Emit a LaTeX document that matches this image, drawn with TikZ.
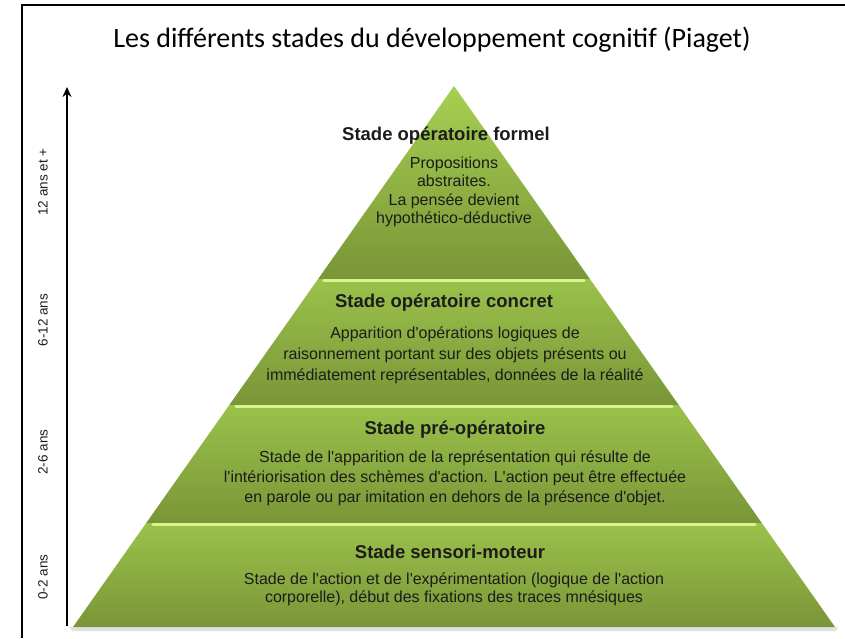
\documentclass[tikz,border=0pt]{standalone}
\usepackage{fontspec}
\setmainfont{Liberation Sans}[Ligatures=TeXOff]
\newfontfamily\titlefont{Carlito}
\usetikzlibrary{arrows.meta}
\definecolor{gtop}{HTML}{9AC24B}
\definecolor{gbot}{HTML}{7A9537}
\definecolor{apex}{HTML}{A6D052}
\definecolor{hl}{HTML}{D8F48E}
\definecolor{txt}{HTML}{1C1C1C}
\tikzset{
  band/.style={top color=gtop, bottom color=gbot, draw=none},
  hiline/.style={hl, line width=3.5pt, line cap=round},
  stitle/.style={font=\bfseries\fontsize{18.5}{22}\selectfont, text=txt, inner sep=0pt},
  sbody/.style={font=\fontsize{16}{#1}\selectfont, align=center, text=txt, inner sep=0pt},
  agelabel/.style={font=\fontsize{13.5}{16}\selectfont, rotate=90, text=txt, inner sep=0pt},
}
\begin{document}
\begin{tikzpicture}[x=1pt,y=-1pt]
\useasboundingbox (0,0) rectangle (845,638);
% frame
\draw[line width=1.4pt] (22,638) -- (22,5) -- (845,5);
% title
\node[font=\titlefont\fontsize{28}{32}\selectfont, text=black] (title) at (432,40) {Les différents stades du développement cognitif (Piaget)};
% shadow
\fill[black!12] (70,627) -- (838,627) -- (836,631) -- (72,631) -- cycle;
% pyramid bands
\shade[top color=apex, bottom color=gbot] (454,86) -- (589.9,279) -- (318.1,279) -- cycle;
\shade[band] (318.1,279) -- (589.9,279) -- (678.7,405) -- (229.3,405) -- cycle;
\shade[band] (229.3,405) -- (678.7,405) -- (761.8,523) -- (146.2,523) -- cycle;
\shade[band] (146.2,523) -- (761.8,523) -- (835,627) -- (73,627) -- cycle;
% highlights
\draw[hiline] (324,280.5) -- (584,280.5);
\draw[hiline] (236,406.5) -- (672,406.5);
\draw[hiline] (153,524.5) -- (755,524.5);
% age axis
\coordinate (axbot) at (67,626);
\coordinate (axtop) at (67,87);
\draw[line width=1.8pt, -{Stealth[length=10pt,width=9pt]}] (axbot) -- (axtop);
\node[agelabel] (a12) at (43,182) {12 ans et +};
\node[agelabel] (a6) at (43,320) {6-12 ans};
\node[agelabel] (a2) at (43,452) {2-6 ans};
\node[agelabel] (a0) at (43,577) {0-2 ans};
% texts
\node[stitle] (t1) at (446,136) {Stade opératoire formel};
\node[sbody=18.5] (b1) at (454,192) {Propositions\\abstraites.\\La pensée devient\\hypothético-déductive};
\node[stitle] (t2) at (444,303) {Stade opératoire concret};
\node[sbody=21] (b2) at (455,355) {Apparition d'opérations logiques de\\raisonnement portant sur des objets présents ou\\immédiatement représentables, données de la réalité};
\node[stitle] (t3) at (455,430) {Stade pré-opératoire};
\node[sbody=20] (b3) at (455,478.5) {Stade de l'apparition de la représentation qui résulte de\\l'intériorisation des schèmes d'action. L'action peut être effectuée\\en parole ou par imitation en dehors de la présence d'objet.};
\node[stitle] (t4) at (450,552) {Stade sensori-moteur};
\node[sbody=18.5] (b4) at (454,589.5) {Stade de l'action et de l'expérimentation (logique de l'action\\corporelle), début des fixations des traces mnésiques};
\end{tikzpicture}
\end{document}
